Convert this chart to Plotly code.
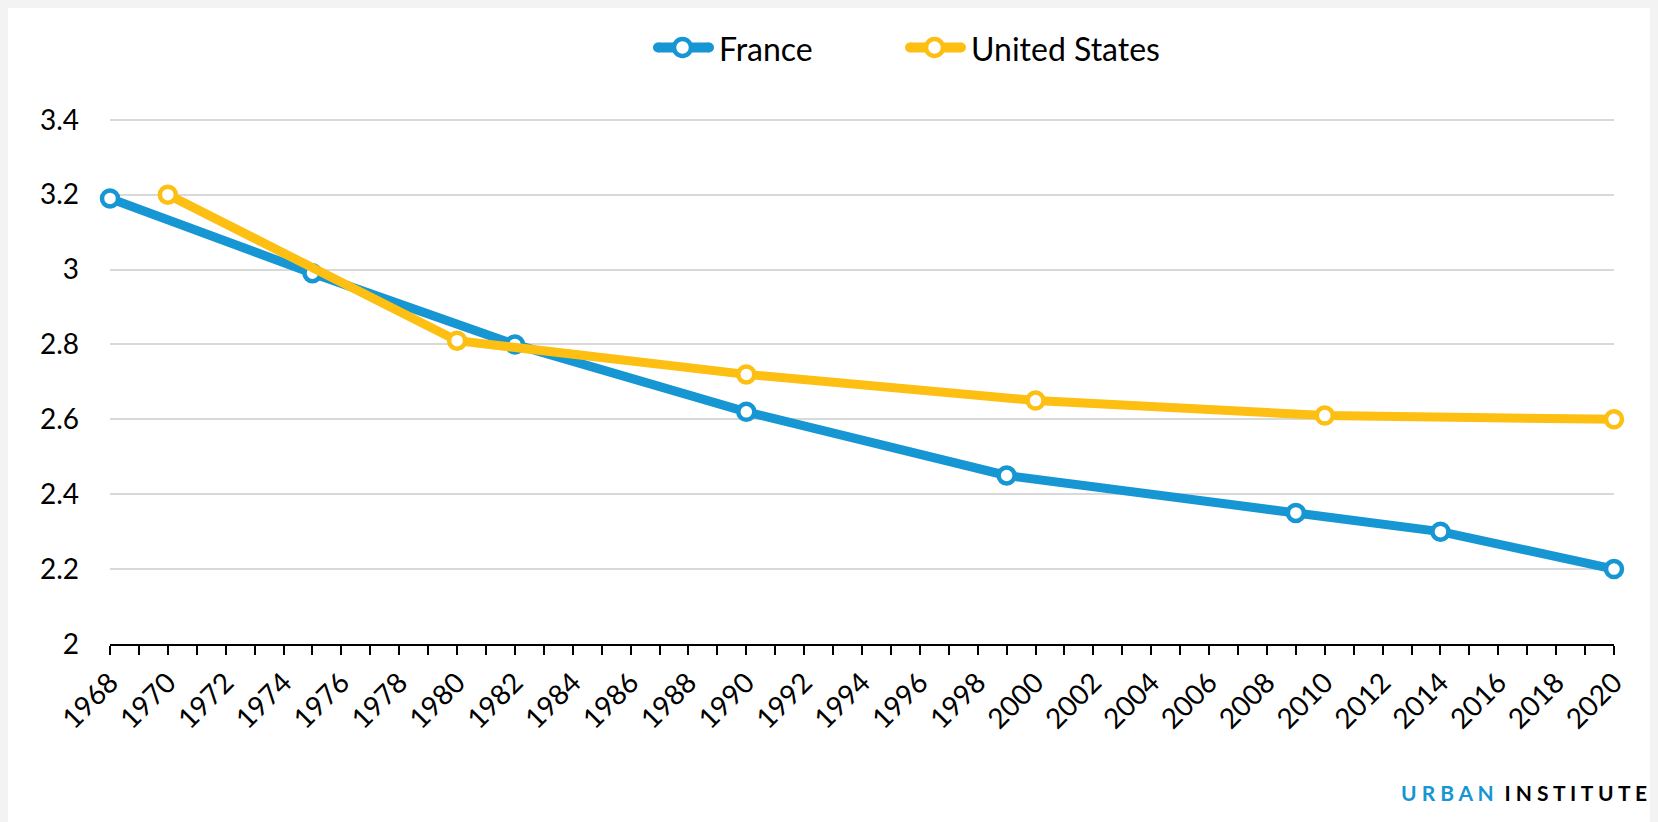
import plotly.graph_objects as go

# ---- data ----
france_years = [1968, 1975, 1982, 1990, 1999, 2009, 2014, 2020]
france_values = [3.19, 2.99, 2.80, 2.62, 2.45, 2.35, 2.30, 2.20]
us_years = [1970, 1980, 1990, 2000, 2010, 2020]
us_values = [3.20, 2.81, 2.72, 2.65, 2.61, 2.60]
series_names = ["France", "United States"]
tick_years = list(range(1968, 2021))
tick_labels = [str(y) if (y - 1968) % 2 == 0 else "" for y in tick_years]
y_ticks = [2, 2.2, 2.4, 2.6, 2.8, 3, 3.2, 3.4]
y_labels = ["2", "2.2", "2.4", "2.6", "2.8", "3", "3.2", "3.4"]

BLUE = "#1696d2"
YELLOW = "#fdbf11"
FONT = "Lato"

# figure sits at (8, 8) in the page because of the default body margin
W, H = 1650, 814
L, R, T, B = 102, 44, 108, 178
pw, ph = W - L - R, H - T - B


def px_to_paper_x(px):
    return (px - L) / pw


def px_to_paper_y(py):
    return (H - B - py) / ph


fig = go.Figure()
for name, xs, ys, col in [(series_names[0], france_years, france_values, BLUE),
                          (series_names[1], us_years, us_values, YELLOW)]:
    fig.add_trace(go.Scatter(
        x=xs, y=ys, name=name, mode="lines+markers",
        line=dict(color=col, width=9),
        marker=dict(symbol="circle", size=16, color="white", line=dict(color=col, width=4.5)),
        cliponaxis=False, showlegend=False,
    ))

# manual legend (long line symbol with a hollow marker, as in the reference)
shapes = []
annotations = []
legend_items = [
    (series_names[0], BLUE, 645, 706, 674.5, 709),
    (series_names[1], YELLOW, 897, 958, 926.5, 961),
]
LEG_Y = 39.5
for name, col, lx0, lx1, cx, tx in legend_items:
    shapes.append(dict(type="line", xref="paper", yref="paper",
                       x0=px_to_paper_x(lx0 + 5), x1=px_to_paper_x(lx1 - 5),
                       y0=px_to_paper_y(LEG_Y), y1=px_to_paper_y(LEG_Y),
                       line=dict(color=col, width=10)))
    for ex in (lx0 + 5, lx1 - 5):  # rounded line ends
        shapes.append(dict(type="circle", xref="paper", yref="paper",
                           xsizemode="pixel", ysizemode="pixel",
                           xanchor=px_to_paper_x(ex), yanchor=px_to_paper_y(LEG_Y),
                           x0=-5, x1=5, y0=-5, y1=5,
                           fillcolor=col, line=dict(width=0)))
    shapes.append(dict(type="circle", xref="paper", yref="paper",
                       xsizemode="pixel", ysizemode="pixel",
                       xanchor=px_to_paper_x(cx), yanchor=px_to_paper_y(LEG_Y),
                       x0=-8.5, x1=8.5, y0=-8.5, y1=8.5,
                       fillcolor="white", line=dict(color=col, width=4.5)))
    annotations.append(dict(xref="paper", yref="paper",
                            x=px_to_paper_x(tx), y=px_to_paper_y(LEG_Y + 1),
                            xanchor="left", yanchor="middle", showarrow=False,
                            text=name, font=dict(size=32, family=FONT, color="black")))

annotations.append(dict(
    xref="paper", yref="paper", x=px_to_paper_x(1641), y=px_to_paper_y(784),
    xanchor="right", yanchor="middle", showarrow=False,
    text="<span style='color:%s'><b>U R B A N</b></span>  <b>I N S T I T U T E</b>" % BLUE,
    font=dict(size=21, family=FONT, color="black"),
))

fig.update_layout(
    width=W, height=H,
    margin=dict(l=L, r=R, t=T, b=B),
    paper_bgcolor="white",
    plot_bgcolor="white",
    font=dict(family=FONT, color="black", size=28),
    showlegend=False,
    xaxis=dict(
        range=[1968, 2020], tickmode="array", tickvals=tick_years, ticktext=tick_labels,
        tickangle=-45, ticks="outside", ticklen=9, tickwidth=2, tickcolor="black",
        showline=True, linecolor="black", linewidth=2, showgrid=False, zeroline=False,
        tickfont=dict(size=28, family=FONT),
    ),
    yaxis=dict(
        range=[2, 3.41], tickmode="array", tickvals=y_ticks, ticktext=y_labels,
        showgrid=True, gridcolor="#d9d9d9", gridwidth=2, zeroline=False,
        showline=False, ticks="", ticklabelstandoff=30,
        tickfont=dict(size=28, family=FONT),
    ),
    shapes=shapes,
    annotations=annotations,
)

fig.write_html("out.html",
               post_script="document.body.style.backgroundColor='#f3f3f3';")
